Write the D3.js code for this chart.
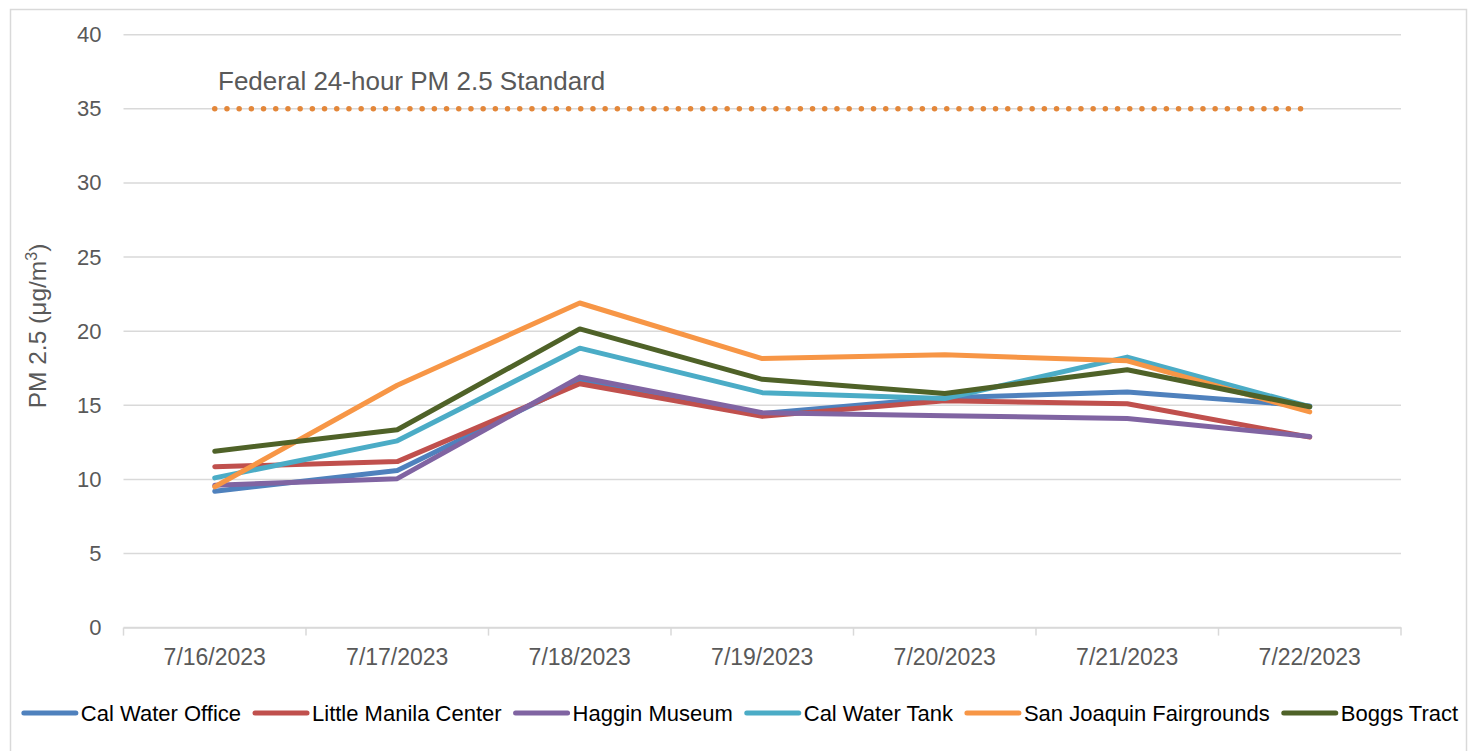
<!DOCTYPE html>
<html><head><meta charset="utf-8">
<script src="https://cdn.jsdelivr.net/npm/d3@7"></script>
<style>body{margin:0;background:#fff;}svg{display:block;font-family:"Liberation Sans",Arial,sans-serif;}</style>
</head><body>
<svg id="chart" width="1475" height="751"></svg>
<script>
const categories = ["7/16/2023","7/17/2023","7/18/2023","7/19/2023","7/20/2023","7/21/2023","7/22/2023"];
const seriesNames = ["Cal Water Office","Little Manila Center","Haggin Museum","Cal Water Tank","San Joaquin Fairgrounds","Boggs Tract"];
const calWaterOffice   = [9.2, 10.6, 16.6, 14.45, 15.5, 15.9, 14.95];
const littleManila     = [10.85, 11.2, 16.45, 14.25, 15.3, 15.1, 12.85];
const hagginMuseum     = [9.6, 10.05, 16.9, 14.5, 14.3, 14.1, 12.9];
const calWaterTank     = [10.1, 12.6, 18.85, 15.85, 15.45, 18.25, 14.9];
const fairgrounds      = [9.5, 16.35, 21.9, 18.15, 18.4, 18.0, 14.55];
const boggsTract       = [11.9, 13.35, 20.15, 16.75, 15.8, 17.4, 14.9];
const seriesColors = ["#4F81BD","#C0504D","#8064A2","#4BACC6","#F79646","#4F6228"];
const yTicks = [0,5,10,15,20,25,30,35,40];
const standardValue = 35;
const standardLabel = "Federal 24-hour PM 2.5 Standard";

const allSeries = [calWaterOffice, littleManila, hagginMuseum, calWaterTank, fairgrounds, boggsTract];
const svg = d3.select("#chart");
const pL = 123.5, pR = 1401, pT = 34.7, pB = 627.6;
const x = d3.scaleBand().domain(categories).range([pL, pR]).padding(0);
const cx = d => x(d) + x.bandwidth()/2;
const y = d3.scaleLinear().domain([0,40]).range([pB, pT]);
const gray = "#595959", grid = "#D9D9D9";
const FF = "Liberation Sans, Arial, sans-serif";

// outer border
svg.append("rect").attr("x",10.5).attr("y",9.5).attr("width",1456).attr("height",760)
  .attr("fill","none").attr("stroke",grid).attr("stroke-width",1.5);

// gridlines
svg.append("g").selectAll("line").data(yTicks).join("line")
  .attr("x1",pL).attr("x2",pR).attr("y1",d=>y(d)).attr("y2",d=>y(d))
  .attr("stroke",grid).attr("stroke-width",1.5);

// y labels
const yAxis = d3.axisLeft(y).tickValues(yTicks).tickSize(0).tickPadding(22);
const yg = svg.append("g").attr("transform",`translate(${pL},0)`).call(yAxis);
yg.select(".domain").remove();
yg.selectAll("text").attr("fill",gray).style("font-size","22px").style("font-family",FF);

// x axis
const xAxis = d3.axisBottom(x).tickSize(0).tickPadding(21);
const xg = svg.append("g").attr("transform",`translate(0,${pB})`).call(xAxis);
xg.select(".domain").attr("stroke",grid).attr("stroke-width",1.5);
xg.selectAll("text").attr("fill",gray).style("font-size","23px").style("font-family",FF);
const bounds = categories.map(c=>x(c)).concat([pR]);
svg.append("g").selectAll("line").data(bounds).join("line")
  .attr("x1",d=>d).attr("x2",d=>d).attr("y1",pB).attr("y2",pB+8)
  .attr("stroke",grid).attr("stroke-width",1.5);

// y title
const yt = svg.append("text").attr("transform",`translate(46,326) rotate(-90)`)
  .attr("text-anchor","middle").attr("fill",gray).style("font-size","24.5px");
yt.append("tspan").text("PM 2.5 (μg/m");
yt.append("tspan").text("3").attr("dy",-9).style("font-size","16px");
yt.append("tspan").text(")").attr("dy",9);

// standard line
svg.append("line").attr("x1",cx(categories[0])).attr("x2",cx(categories[categories.length-1]))
  .attr("y1",y(standardValue)).attr("y2",y(standardValue))
  .attr("stroke","#E3873A").attr("stroke-width",5.5).attr("stroke-linecap","round")
  .attr("stroke-dasharray","0 12.2");
svg.append("text").attr("x",218).attr("y",90).attr("fill",gray)
  .style("font-size","26px").text(standardLabel);

// series
const line = d3.line().x((d,i)=>cx(categories[i])).y(d=>y(d));
svg.append("g").selectAll("path").data(allSeries).join("path")
  .attr("d",d=>line(d)).attr("fill","none")
  .attr("stroke",(d,i)=>seriesColors[i]).attr("stroke-width",5)
  .attr("stroke-linejoin","round").attr("stroke-linecap","round");

// legend
const lg = svg.append("g");
let pos = 0;
const sw = 52, gapT = 5, gapI = 14, ly = 713;
seriesNames.forEach((n,i)=>{
  const g = lg.append("g").attr("transform",`translate(${pos},0)`);
  g.append("line").attr("x1",0).attr("x2",sw).attr("y1",ly).attr("y2",ly)
    .attr("stroke",seriesColors[i]).attr("stroke-width",5).attr("stroke-linecap","round");
  const t = g.append("text").attr("x",sw+gapT).attr("y",ly).attr("dy","0.36em")
    .attr("fill","#000").style("font-size","22px").text(n);
  pos += sw + gapT + t.node().getComputedTextLength() + gapI;
});
const total = pos - gapI;
lg.attr("transform",`translate(${741 - total/2},0)`);
</script>
</body></html>
